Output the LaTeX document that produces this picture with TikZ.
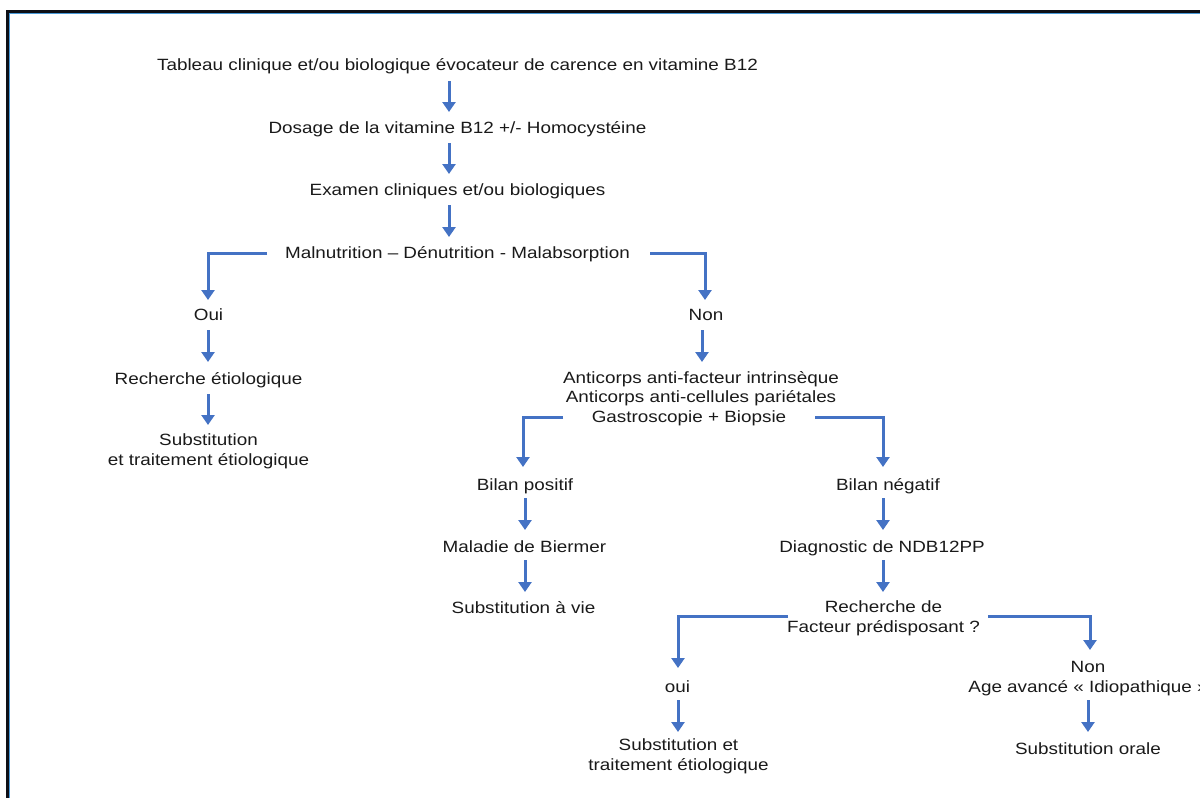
\documentclass[tikz,border=0pt]{standalone}
\usepackage{fontspec}
\setmainfont{Liberation Sans}[FakeStretch=1.157]
\usetikzlibrary{arrows.meta,calc}
\definecolor{arrblue}{HTML}{4472C4}
\definecolor{frameblack}{HTML}{0E0F16}
\definecolor{framelight}{HTML}{4A9AD8}
\definecolor{txt}{HTML}{1A1A1A}
\begin{document}
\begin{tikzpicture}[x=1pt,y=-1pt,
  lbl/.style={font=\fontsize{16.3}{19.5}\selectfont, inner sep=0pt, anchor=base, align=center, text=txt},
  arr/.style={draw=arrblue, line width=3pt, -{Triangle[width=13pt,length=10pt]}}]
\useasboundingbox (0,0) rectangle (1200,798);
\fill[white] (0,0) rectangle (1200,798);
\draw[line width=3pt, frameblack] (7.5,11.5) rectangle (1230,830);
\draw[line width=1pt, framelight] (9.8,13.8) rectangle (1230,830);

% base anchor of a multi-line node = baseline of its last line
\node[lbl] (t1) at (457.5,70) {Tableau clinique et/ou biologique évocateur de carence en vitamine B12};
\node[lbl] (t2) at (457.5,133) {Dosage de la vitamine B12 +/- Homocystéine};
\node[lbl] (t3) at (457.5,195) {Examen cliniques et/ou biologiques};
\node[lbl] (t4) at (457.5,258) {Malnutrition – Dénutrition - Malabsorption};
\node[lbl] (oui1) at (208.5,320) {Oui};
\node[lbl] (non1) at (706,320) {Non};
\node[lbl] (rech) at (208.5,384) {Recherche étiologique};
\node[lbl] (sub1) at (208.5,465) {Substitution\\et traitement étiologique};
\node[lbl] (anti) at (701,422) {Anticorps anti-facteur intrinsèque\\Anticorps anti-cellules pariétales\\Gastroscopie + Biopsie\kern24pt};
\node[lbl] (bpos) at (525,490) {Bilan positif};
\node[lbl] (bneg) at (888,490) {Bilan négatif};
\node[lbl] (biermer) at (524.5,552) {Maladie de Biermer};
\node[lbl] (subvie) at (523.5,613) {Substitution à vie};
\node[lbl] (diag) at (882,552) {Diagnostic de NDB12PP};
\node[lbl] (fact) at (883.5,632) {Recherche de\\Facteur prédisposant ?};
\node[lbl] (oui2) at (677.5,692) {oui};
\node[lbl] (non2) at (1088,692) {Non\\Age avancé « Idiopathique »};
\node[lbl] (subor) at (1088,754) {Substitution orale};
\node[lbl] (sub2) at (678.5,770) {Substitution et\\traitement étiologique};

\draw[arr] ($(t1.base)+(-8.5,11)$) -- ($(t2.base)+(-8.5,-21)$);
\draw[arr] ($(t2.base)+(-8.5,10)$) -- ($(t3.base)+(-8.5,-21)$);
\draw[arr] ($(t3.base)+(-8.5,10)$) -- ($(t4.base)+(-8.5,-21)$);
\draw[arr] ($(t4.base)+(-190.5,-5)$) -| ($(oui1.base)+(-0.5,-20)$);
\draw[arr] ($(t4.base)+(192.5,-5)$) -| ($(non1.base)+(-1,-20)$);
\draw[arr] ($(oui1.base)+(-0.5,10)$) -- ($(rech.base)+(-0.5,-22)$);
\draw[arr] ($(rech.base)+(-0.5,10)$) -- ($(sub1.base)+(-0.5,-40)$);
\draw[arr] ($(non1.base)+(-4,10)$) -- ($(anti.base)+(1,-60)$);
\draw[arr] ($(anti.base)+(-138,-5)$) -| ($(bpos.base)+(-2,-23)$);
\draw[arr] ($(anti.base)+(114,-5)$) -| ($(bneg.base)+(-5,-23)$);
\draw[arr] ($(bpos.base)+(0,8)$) -- ($(biermer.base)+(0.5,-22)$);
\draw[arr] ($(biermer.base)+(0.5,8)$) -- ($(subvie.base)+(1.5,-21)$);
\draw[arr] ($(bneg.base)+(-5,8)$) -- ($(diag.base)+(1,-22)$);
\draw[arr] ($(diag.base)+(1,8)$) -- ($(fact.base)+(-0.5,-40)$);
\draw[arr] ($(fact.base)+(-95.5,-16)$) -| ($(oui2.base)+(0.5,-24)$);
\draw[arr] ($(fact.base)+(104.5,-16)$) -| ($(non2.base)+(2,-42)$);
\draw[arr] ($(oui2.base)+(0.5,8)$) -- ($(sub2.base)+(-0.5,-38)$);
\draw[arr] ($(non2.base)+(0,8)$) -- ($(subor.base)+(0,-22)$);
\end{tikzpicture}
\end{document}
